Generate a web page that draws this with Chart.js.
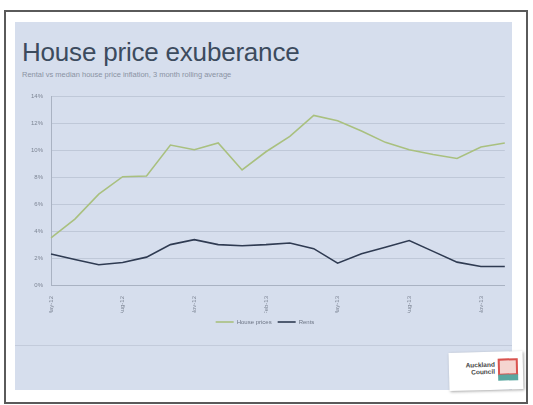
<!DOCTYPE html>
<html>
<head>
<meta charset="utf-8">
<script src="https://cdn.jsdelivr.net/npm/chart.js@4"></script>
<style>
  body { margin: 0; width: 533px; height: 405px; background: #fff; position: relative; overflow: hidden; font-family: "Liberation Sans", Arial, sans-serif; }
  #frame { position: absolute; left: 4px; top: 10px; width: 520px; height: 390px; border: 2px solid #5a5a5a; }
  #panel { position: absolute; left: 15px; top: 22px; width: 497px; height: 368px; background: #d6deed; }
  #title { position: absolute; left: 22px; top: 37px; font-size: 26px; color: #3c4b5e; letter-spacing: -0.2px; }
  #sub { position: absolute; left: 22px; top: 70px; font-size: 7.5px; color: #8a93a3; }
  #rule { position: absolute; left: 15px; top: 345px; width: 497px; height: 1px; background: #c3cbdb; }
  #wrap { position: absolute; left: 15px; top: 85px; width: 500px; height: 250px; }
  #logo { position: absolute; left: 449px; top: 352px; width: 74px; height: 38px; background: #fff; transform: rotate(-1.5deg); box-shadow: 1px 1px 3px rgba(0,0,0,0.35); }
  #logo .t { position: absolute; left: 8px; top: 9px; font-size: 6.5px; font-weight: bold; color: #444; line-height: 7px; text-align: right; width: 38px; }
  #logo .i { position: absolute; left: 49px; top: 7px; width: 16px; height: 13px; border: 2px solid #d9534f; background: #f5d5d0; }
  #logo .b { position: absolute; left: 49px; top: 23px; width: 20px; height: 6px; background: #5aa7a0; }
</style>
</head>
<body>
<div id="frame"></div>
<div id="panel"></div>
<div id="title">House price exuberance</div>
<div id="sub">Rental vs median house price inflation, 3 month rolling average</div>
<div id="rule"></div>
<div id="wrap"><canvas id="c"></canvas></div>
<div id="logo"><div class="t">Auckland<br>Council</div><div class="i"></div><div class="b"></div></div>
<script>
// --- DATOS ---
const meses = ['May-12', 'Jun-12', 'Jul-12', 'Aug-12', 'Sep-12', 'Oct-12', 'Nov-12', 'Dec-12',
    'Jan-13', 'Feb-13', 'Mar-13', 'Apr-13', 'May-13', 'Jun-13', 'Jul-13', 'Aug-13',
    'Sep-13', 'Oct-13', 'Nov-13', 'Dec-13'];
const housePrices = [3.5, 4.9, 6.75, 8.05, 8.1, 10.4, 10.05, 10.55, 8.55, 9.9,
    11.05, 12.6, 12.2, 11.45, 10.6, 10.05, 9.7, 9.4, 10.25, 10.55];
const rents = [2.3, 1.9, 1.5, 1.67, 2.07, 3.0, 3.37, 3.0, 2.92, 3.0,
    3.12, 2.7, 1.62, 2.33, 2.8, 3.3, 2.5, 1.7, 1.37, 1.37];
const yTicks = [0, 2, 4, 6, 8, 10, 12, 14];

const ctx = document.getElementById('c').getContext('2d');
const chart = new Chart(ctx, {
    type: 'line',
    data: {
        labels: meses,
        datasets: [{
            label: 'House prices',
            data: housePrices,
            borderColor: '#a9c07f',
            borderWidth: 1.6,
            pointRadius: 0,
            tension: 0
        }, {
            label: 'Rents',
            data: rents,
            borderColor: '#2f3b52',
            borderWidth: 1.6,
            pointRadius: 0,
            tension: 0
        }]
    },
    options: {
        responsive: true,
        maintainAspectRatio: false,
        animation: false,
        layout: { padding: { top: 11, right: 0, left: 0, bottom: 0 } },
        scales: {
            x: {
                offset: false,
                grid: { display: false },
                border: { color: '#a9b2c2' },
                ticks: {
                    autoSkip: false,
                    maxRotation: 90,
                    minRotation: 90,
                    font: { size: 6 },
                    color: '#7d8594',
                    callback: (v, i) => i % 3 === 0 ? meses[i] : ''
                },
                afterFit: s => { s.height = 28; }
            },
            y: {
                min: 0,
                max: 14,
                afterBuildTicks: s => { s.ticks = yTicks.map(v => ({ value: v })); },
                grid: { color: '#bfc8d8', drawTicks: false },
                border: { color: '#a9b2c2' },
                ticks: {
                    padding: 8,
                    font: { size: 6 },
                    color: '#7d8594',
                    callback: v => v + '%'
                },
                afterFit: s => { s.width = 36; }
            }
        },
        plugins: {
            legend: {
                position: 'bottom',
                labels: {
                    usePointStyle: true,
                    pointStyle: 'line',
                    pointStyleWidth: 18,
                    boxHeight: 6,
                    font: { size: 6 },
                    color: '#6d7585',
                    padding: 6
                }
            },
            tooltip: { enabled: false }
        }
    }
});
</script>
</body>
</html>
